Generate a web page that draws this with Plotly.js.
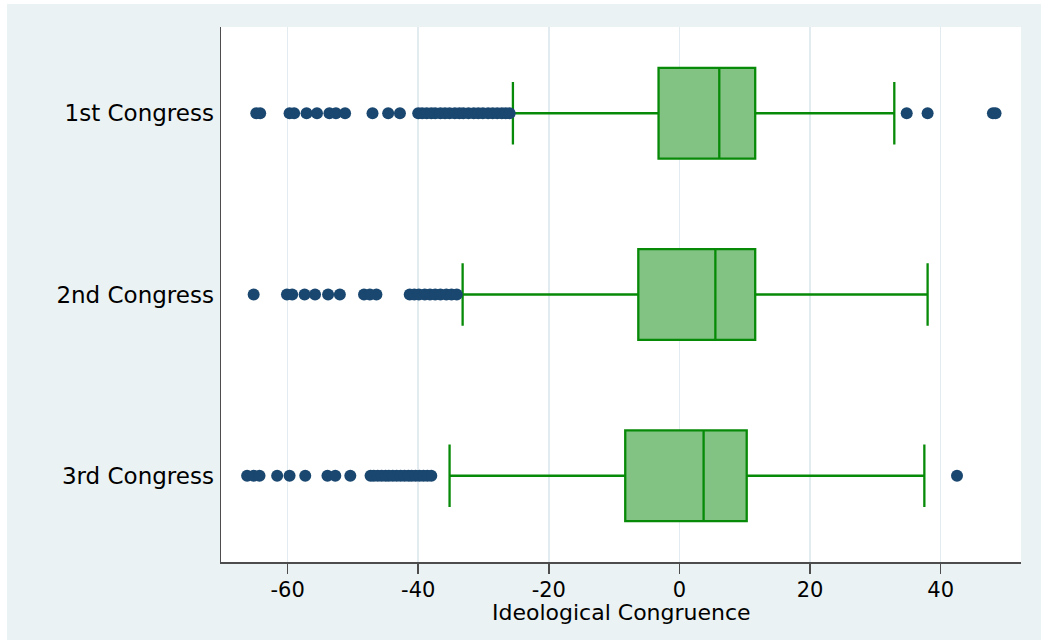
<!DOCTYPE html>
<html>
<head>
<meta charset="utf-8">
<script src="https://cdn.plot.ly/plotly-3.0.1.min.js"></script>
<style>
html,body{margin:0;padding:0;background:#ffffff;width:1041px;height:642px;overflow:hidden;}
#chart{position:absolute;left:7px;top:4px;width:1034px;height:636px;}
</style>
</head>
<body>
<div id="chart"></div>
<script>
// Categories
var categories = ['1st Congress', '2nd Congress', '3rd Congress'];

// Box statistics
var q1Values = [-3.2, -6.3, -8.3];
var medianValues = [6.1, 5.5, 3.7];
var q3Values = [11.6, 11.6, 10.3];
var lowerWhisker = [-25.5, -33.2, -35.2];
var upperWhisker = [32.9, 38.0, 37.5];

// Outside values per congress
var outliers1 = [-64.8, -64.2, -59.7, -59.0, -57.1, -55.5, -53.6, -52.6, -51.2, -47.0, -44.6, -42.8,
  -40.0, -39.4, -38.7, -38.0, -37.4, -36.6, -35.9, -35.2, -34.4, -33.7, -33.1, -32.3, -31.5, -30.8,
  -30.1, -29.3, -28.6, -27.9, -27.2, -26.6, -26.0, 34.8, 38.0, 48.0, 48.4];
var outliers2 = [-65.2, -60.1, -59.3, -57.4, -55.8, -53.8, -52.0, -48.3, -47.4, -46.4, -41.3, -40.6,
  -39.9, -39.0, -38.2, -37.4, -36.6, -35.7, -34.9, -34.1];
var outliers3 = [-66.2, -65.2, -64.3, -61.6, -59.7, -57.3, -53.9, -52.7, -50.4, -47.3, -46.8, -46.2,
  -45.6, -45.0, -44.5, -43.9, -43.3, -42.7, -42.1, -41.5, -41.0, -40.4, -39.8, -39.2, -38.6, -38.0, 42.5];

// Axis ticks
var xTickValues = [-60, -40, -20, 0, 20, 40];
var xTickLabels = ['-60', '-40', '-20', '0', '20', '40'];
var xTitle = 'Ideological Congruence';

var outlierSets = [outliers1, outliers2, outliers3];
var ox = [], oy = [];
outlierSets.forEach(function (arr, i) {
  arr.forEach(function (v) { ox.push(v); oy.push(categories[i]); });
});

var boxTrace = {
  type: 'box',
  orientation: 'h',
  y: categories,
  q1: q1Values,
  median: medianValues,
  q3: q3Values,
  lowerfence: lowerWhisker,
  upperfence: upperWhisker,
  boxpoints: false,
  width: 0.5,
  whiskerwidth: 0.69,
  fillcolor: '#82c282',
  line: {color: '#078a07', width: 2.3},
  hoverinfo: 'skip',
  showlegend: false
};

var pointTrace = {
  type: 'scatter',
  mode: 'markers',
  x: ox,
  y: oy,
  marker: {color: '#1a476f', size: 12, line: {width: 0}},
  hoverinfo: 'skip',
  showlegend: false
};

var fontFam = '"DejaVu Sans", "Liberation Sans", Arial, sans-serif';

var layout = {
  width: 1034,
  height: 636,
  paper_bgcolor: '#eaf2f3',
  plot_bgcolor: '#ffffff',
  margin: {l: 214, r: 20, t: 23, b: 78},
  font: {family: fontFam, color: '#000000'},
  showlegend: false,
  xaxis: {
    range: [-70.2, 52.3],
    tickmode: 'array',
    tickvals: xTickValues,
    ticktext: xTickLabels,
    ticks: 'outside',
    ticklen: 10,
    tickwidth: 1.5,
    tickcolor: '#4d4d4d',
    ticklabelstandoff: -2,
    tickfont: {family: fontFam, size: 21, color: '#000000'},
    showline: true,
    linecolor: '#4d4d4d',
    linewidth: 1.5,
    showgrid: true,
    gridcolor: '#e2ebef',
    gridwidth: 1.5,
    zeroline: false,
    automargin: false
  },
  yaxis: {
    type: 'category',
    categoryorder: 'array',
    categoryarray: categories,
    range: [2.476, -0.476],
    ticks: '',
    ticklabelstandoff: 1,
    tickfont: {family: fontFam, size: 23, color: '#000000'},
    showline: true,
    linecolor: '#4d4d4d',
    linewidth: 1.5,
    showgrid: false,
    zeroline: false,
    automargin: false
  },
  annotations: [{
    text: xTitle,
    xref: 'paper', yref: 'paper',
    x: 0.5, y: -0.0945,
    xanchor: 'center', yanchor: 'middle',
    showarrow: false,
    font: {family: fontFam, size: 22, color: '#000000'}
  }]
};

Plotly.newPlot('chart', [boxTrace, pointTrace], layout, {displayModeBar: false, staticPlot: true});
</script>
</body>
</html>
